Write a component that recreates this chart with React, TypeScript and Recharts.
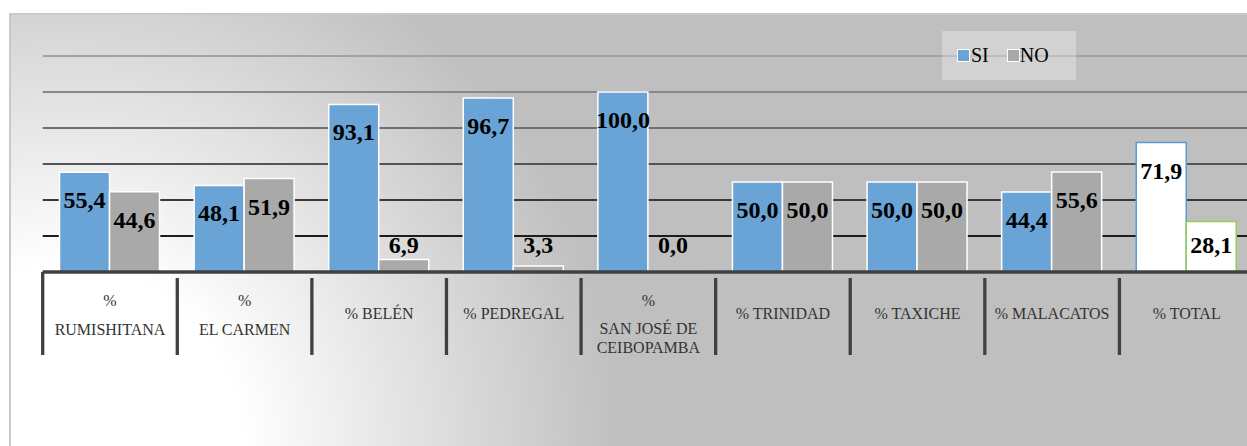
import React from "react";
import { Bar, BarChart, CartesianGrid, Cell, LabelList, XAxis, YAxis } from "recharts";

const categories = [
  "%\nRUMISHITANA",
  "%\nEL CARMEN",
  "% BELÉN",
  "% PEDREGAL",
  "%\nSAN JOSÉ DE\nCEIBOPAMBA",
  "% TRINIDAD",
  "% TAXICHE",
  "% MALACATOS",
  "% TOTAL",
];
const siValues = [55.4, 48.1, 93.1, 96.7, 100.0, 50.0, 50.0, 44.4, 71.9];
const noValues = [44.6, 51.9, 6.9, 3.3, 0.0, 50.0, 50.0, 55.6, 28.1];
const yTicks = [0, 20, 40, 60, 80, 100, 120];

const data = categories.map((c, i) => ({ name: c, si: siValues[i], no: noValues[i] }));

const W = 1290;
const H = 446;
const M = { top: 56, left: 42.7, right: 36, bottom: 84 };
const AXIS_H = 90;
const plotW = W - M.left - M.right;
const band = plotW / categories.length;
const FONT = "Liberation Serif";

const fmt = (v: number) => v.toFixed(1).replace(".", ",");

function ValueLabel(props: any) {
  const { x, y, width, height, value } = props;
  const cy = Math.min(y + 28, y + height - 27);
  return (
    <text
      x={x + width / 2}
      y={cy + 8}
      textAnchor="middle"
      style={{ fontFamily: FONT, fontWeight: 700, fontSize: 24 }}
      fill="#000"
    >
      {fmt(Number(value))}
    </text>
  );
}

function CatTick(props: any) {
  const { x, y, payload, index } = props;
  const lines = String(payload.value).split("\n");
  const sepX = x - band / 2;
  const dys = lines.length === 1 ? [46.5] : lines.length === 2 ? [33.5, 62.5] : [33.5, 61.5, 80.5];
  return (
    <g>
      <line x1={sepX} x2={sepX} y1={index === 0 ? y : y + 6} y2={y + 83} stroke="#404040" strokeWidth={3.3} />
      {lines.map((l, i) => (
        <text key={i} x={x} y={y + dys[i]} textAnchor="middle" style={{ fontFamily: FONT, fontSize: 16 }} fill="#333">
          {l}
        </text>
      ))}
    </g>
  );
}

export default function App() {
  const last = categories.length - 1;
  return (
    <div
      style={{
        position: "absolute",
        left: 0,
        top: 0,
        width: 1247,
        height: 446,
        overflow: "hidden",
        background: "#fff",
        fontFamily: FONT,
      }}
    >
      <div
        style={{
          position: "absolute",
          left: 9,
          top: 13,
          width: 1260,
          height: 460,
          borderLeft: "2px solid #c9c9c9",
          borderTop: "2px solid #c9c9c9",
          background: "radial-gradient(circle at 51px 433px, #ffffff 0px, #ffffff 180px, #bfbfbf 560px)",
        }}
      />
      <div style={{ position: "absolute", left: 0, top: 0 }}>
        <BarChart width={W} height={H} data={data} margin={M} barGap={0} barCategoryGap="12.5%">
          <defs>
            <linearGradient id="gridGrad" gradientUnits="userSpaceOnUse" x1="0" y1="50" x2="0" y2="240">
              <stop offset="0" stopColor="#a6a6a6" />
              <stop offset="0.45" stopColor="#6a6a6a" />
              <stop offset="1" stopColor="#1a1a1a" />
            </linearGradient>
          </defs>
          <CartesianGrid vertical={false} stroke="url(#gridGrad)" strokeWidth={2} />
          <YAxis hide domain={[0, 120]} ticks={yTicks} />
          <XAxis
            dataKey="name"
            height={AXIS_H}
            interval={0}
            tickLine={false}
            tickSize={0}
            tickMargin={0}
            axisLine={{ stroke: "#404040", strokeWidth: 3.5 }}
            tick={<CatTick />}
          />
          <Bar dataKey="si" fill="#6aa3d5" stroke="#fff" strokeWidth={1.5} isAnimationActive={false}>
            {data.map((_, i) => (
              <Cell key={i} fill={i === last ? "#fff" : "#6aa3d5"} stroke={i === last ? "#5b9bd5" : "#fff"} />
            ))}
            <LabelList dataKey="si" content={<ValueLabel />} />
          </Bar>
          <Bar dataKey="no" fill="#a9a9a9" stroke="#fff" strokeWidth={1.5} minPointSize={0.5} isAnimationActive={false}>
            {data.map((_, i) => (
              <Cell key={i} fill={i === last ? "#fff" : "#a9a9a9"} stroke={i === last ? "#92d050" : "#fff"} />
            ))}
            <LabelList dataKey="no" content={<ValueLabel />} />
          </Bar>
        </BarChart>
      </div>
      <div
        style={{
          position: "absolute",
          left: 942,
          top: 31,
          width: 134,
          height: 49,
          background: "rgba(255,255,255,0.3)",
          display: "flex",
          alignItems: "center",
          fontSize: 20,
          color: "#000",
        }}
      >
        <span style={{ display: "inline-block", width: 11, height: 11, background: "#6aa3d5", border: "1.5px solid #fff", marginLeft: 15 }} />
        <span style={{ marginLeft: 1 }}>SI</span>
        <span style={{ display: "inline-block", width: 11, height: 11, background: "#a9a9a9", border: "1.5px solid #fff", marginLeft: 18 }} />
        <span>NO</span>
      </div>
    </div>
  );
}
